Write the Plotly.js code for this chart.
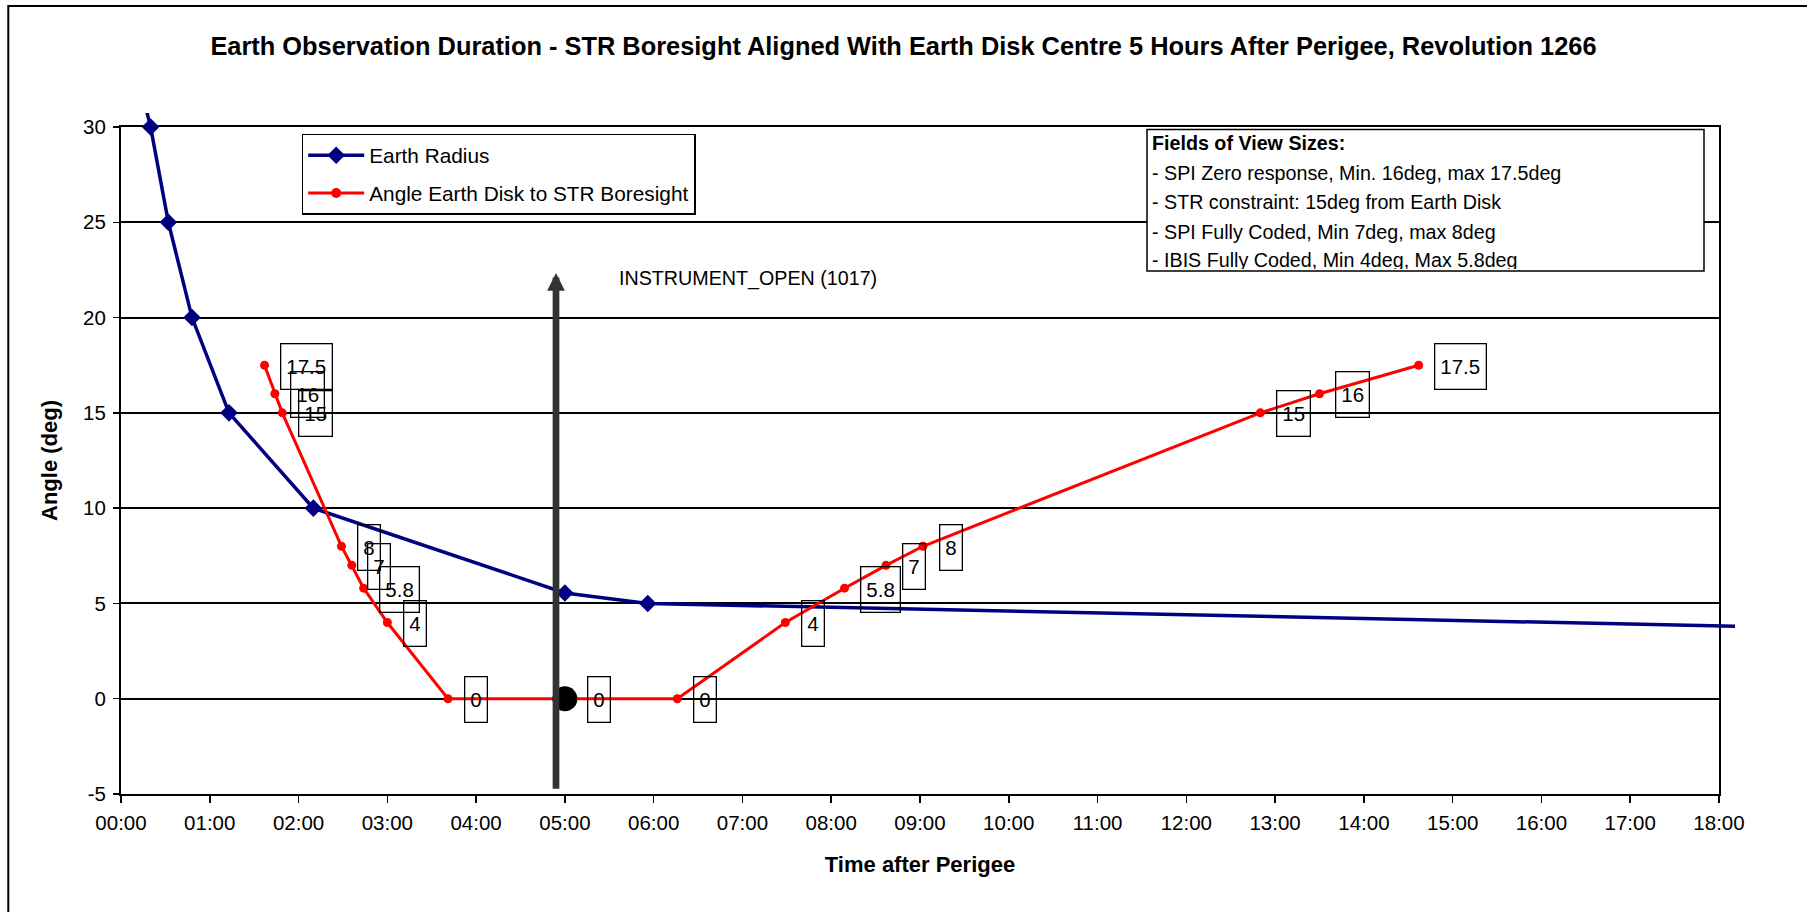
<!DOCTYPE html>
<html>
<head>
<meta charset="utf-8">
<script src="https://cdn.plot.ly/plotly-3.0.1.min.js"></script>
<style>
  html, body { margin: 0; padding: 0; background: #ffffff; }
  #chart { width: 1807px; height: 912px; }
</style>
</head>
<body>
<div id="chart"></div>
<script>
// ---- data -------------------------------------------------------------
// Apparent Earth radius (deg), by time after perigee
const radiusTimes  = ["00:04", "00:20", "00:32", "00:48", "01:13", "02:10", "05:00", "05:56", "19:00"];
const radiusValues = [35, 30, 25, 20, 15, 10, 5.55, 5, 3.72];

// Angle from Earth disk to STR boresight (deg), by time after perigee
const angleTimes  = ["01:37", "01:44", "01:49", "02:29", "02:36", "02:44", "03:00", "03:41",
                     "05:00", "06:16", "07:29", "08:09", "08:37", "09:02", "12:50", "13:30", "14:37"];
const angleValues = [17.5, 16, 15, 8, 7, 5.8, 4, 0, 0, 0, 4, 5.8, 7, 8, 15, 16, 17.5];
// point where the boresight is aligned with the Earth disk centre
const alignedTime = "05:00";

const xTickLabels = ["00:00", "01:00", "02:00", "03:00", "04:00", "05:00", "06:00", "07:00", "08:00", "09:00",
                     "10:00", "11:00", "12:00", "13:00", "14:00", "15:00", "16:00", "17:00", "18:00"];
const yTickValues = [-5, 0, 5, 10, 15, 20, 25, 30];

const eventTime  = "04:54";
const eventLabel = "INSTRUMENT_OPEN (1017)";

const fovTitle = "Fields of View Sizes:";
const fovLines = [
  "- SPI Zero response, Min. 16deg, max 17.5deg",
  "- STR constraint: 15deg from Earth Disk",
  "- SPI Fully Coded, Min 7deg, max 8deg",
  "- IBIS Fully Coded, Min 4deg, Max 5.8deg"
];

// ---- helpers ----------------------------------------------------------
const toHours = s => { const p = s.split(":").map(Number); return p[0] + p[1] / 60; };

const FONT = "Liberation Sans, Arial, Helvetica, sans-serif";
const W = 1807, H = 912;
// plot box in page pixels
const L = 121, R = 1719, T = 127, B = 794.5;
// series lines may run a little past the plot box
const padL = 15, padR = 16, padT = 14, padB = 15;
const margin = { l: L - padL, r: W - (R + padR), t: T - padT, b: H - (B + padB), pad: 0 };
const paperW = W - margin.l - margin.r;
const paperH = H - margin.t - margin.b;
const px2x = px => (px - margin.l) / paperW;
const py2y = py => (H - margin.b - py) / paperH;

const xDomain = [px2x(L), px2x(R)];
const yDomain = [py2y(B), py2y(T)];
const xRange = [0, 18];
const yRange = [-5, 30];
function extendRange(range, dom) {
  const span = (range[1] - range[0]) / (dom[1] - dom[0]);
  return [range[0] - dom[0] * span, range[1] + (1 - dom[1]) * span];
}

// ---- traces -----------------------------------------------------------
const angleX = angleTimes.map(toHours);
const isAligned = angleTimes.map(t => t === alignedTime);
const angleSizes = isAligned.map(a => a ? 25 : 9);
const angleColors = isAligned.map(a => a ? "#000000" : "#ff0000");

const traces = [
  {
    type: "scatter", mode: "lines+markers", name: "Earth Radius",
    x: radiusTimes.map(toHours), y: radiusValues,
    xaxis: "x2", yaxis: "y2",
    line: { color: "#000080", width: 3.5 },
    marker: { symbol: "diamond", size: 13.5, color: "#000080", opacity: 1, line: { width: 0 } },
    legendgroup: "radius"
  },
  {
    type: "scatter", mode: "lines+markers", name: "Angle Earth Disk to STR Boresight",
    x: angleX, y: angleValues,
    xaxis: "x2", yaxis: "y2",
    line: { color: "#ff0000", width: 3 },
    marker: { symbol: "circle", size: angleSizes, color: angleColors, opacity: 1, line: { width: 0 } },
    legendgroup: "angle"
  }
];

// ---- annotations ------------------------------------------------------
const annotations = [];
const noteFont = { family: FONT, size: 19.7, color: "#000000" };

// boxed value labels to the right of each angle point
angleValues.forEach((v, i) => {
  annotations.push({
    x: angleX[i], y: v, xref: "x", yref: "y",
    text: String(v), showarrow: false,
    xanchor: "left", yanchor: "middle",
    xshift: 12 + 0.4 * angleSizes[i], yshift: -1,
    bordercolor: "#000000", borderwidth: 1.3, borderpad: 5, height: 34,
    font: { family: FONT, size: 20.5, color: "#000000" }
  });
});

// instrument-open event arrow
const arrowTop = 22.34, arrowBottom = -4.8;
annotations.push({
  x: toHours(eventTime), y: arrowTop, xref: "x", yref: "y",
  ax: toHours(eventTime), ay: arrowBottom, axref: "x", ayref: "y",
  text: "", showarrow: true, arrowhead: 2, arrowsize: 0.53, arrowwidth: 6.7,
  arrowcolor: "#333333", standoff: 0
});
annotations.push({
  x: toHours(eventTime), y: arrowTop, xref: "x", yref: "y",
  text: eventLabel, showarrow: false, xanchor: "left", yanchor: "middle",
  xshift: 61, yshift: -6, font: noteFont
});

// fields-of-view note
const fovBox = { x0: 1147, y0: 129.5, x1: 1704, y1: 271 };
const fovTextX = 1151;
const fovRowY = [143.3, 172.7, 202, 231.7, 260.7];
[fovTitle].concat(fovLines).forEach((line, i) => {
  const last = i === fovLines.length;
  const a = {
    xref: "paper", yref: "paper", x: px2x(fovTextX), xanchor: "left",
    text: line, showarrow: false, align: "left", borderpad: 0,
    font: Object.assign({}, noteFont, { weight: i === 0 ? "bold" : "normal" })
  };
  if (last) {
    // bottom row runs into the frame edge
    a.y = py2y(fovBox.y1 - 1); a.yanchor = "bottom"; a.valign = "top"; a.height = 20;
  } else {
    a.y = py2y(fovRowY[i]); a.yanchor = "middle";
  }
  annotations.push(a);
});

// ---- shapes -----------------------------------------------------------
const shapes = [
  {
    type: "rect", xref: "paper", yref: "paper",
    x0: px2x(fovBox.x0), x1: px2x(fovBox.x1), y0: py2y(fovBox.y1), y1: py2y(fovBox.y0),
    line: { color: "#000000", width: 1.5 }, fillcolor: "#ffffff", layer: "above"
  },
  {
    // outer chart frame
    type: "rect", xref: "paper", yref: "paper",
    x0: px2x(8.3), x1: px2x(W + 20), y0: py2y(H + 20), y1: py2y(6),
    line: { color: "#000000", width: 2 }, fillcolor: "rgba(0,0,0,0)", layer: "below"
  }
];

// ---- layout -----------------------------------------------------------
const axisFont = { family: FONT, size: 20.5, color: "#000000" };
const layout = {
  width: W, height: H, margin: margin,
  paper_bgcolor: "#ffffff", plot_bgcolor: "rgba(0,0,0,0)",
  font: { family: FONT, color: "#000000" },
  title: {
    text: "Earth Observation Duration - STR Boresight Aligned With Earth Disk Centre 5 Hours After Perigee, Revolution 1266",
    font: { family: FONT, size: 25.4, weight: "bold", color: "#000000" },
    x: 0.5, xref: "container", xanchor: "center",
    y: 1 - 46 / H, yref: "container", yanchor: "middle"
  },
  xaxis: {
    domain: xDomain, range: xRange, anchor: "y",
    tickmode: "array", tickvals: xTickLabels.map(toHours), ticktext: xTickLabels,
    ticks: "outside", ticklen: 7, tickwidth: 1.5, tickcolor: "#000000", ticklabelstandoff: 2,
    showline: true, linecolor: "#000000", linewidth: 2, mirror: true,
    showgrid: false, zeroline: false, tickfont: axisFont,
    title: { text: "Time after Perigee", standoff: 24,
             font: { family: FONT, size: 22, weight: "bold", color: "#000000" } }
  },
  yaxis: {
    domain: yDomain, range: yRange, anchor: "x",
    tickmode: "array", tickvals: yTickValues, ticktext: yTickValues.map(String),
    ticks: "outside", ticklen: 6, tickwidth: 1.5, tickcolor: "#000000", ticklabelstandoff: 3,
    showline: true, linecolor: "#000000", linewidth: 2, mirror: true,
    showgrid: true, gridcolor: "#000000", gridwidth: 2, zeroline: false, tickfont: axisFont,
    title: { text: "Angle (deg)", standoff: 19,
             font: { family: FONT, size: 22, weight: "bold", color: "#000000" } }
  },
  xaxis2: { domain: [0, 1], range: extendRange(xRange, xDomain), anchor: "y2", visible: false, fixedrange: true },
  yaxis2: { domain: [0, 1], range: extendRange(yRange, yDomain), anchor: "x2", visible: false, fixedrange: true },
  showlegend: true,
  legend: {
    x: px2x(301.7), y: py2y(133.7), xanchor: "left", yanchor: "top",
    bgcolor: "#ffffff", bordercolor: "#000000", borderwidth: 1.5,
    font: { family: FONT, size: 20.8, color: "#000000" },
    itemwidth: 56, traceorder: "grouped", tracegroupgap: 7.7
  },
  annotations: annotations,
  shapes: shapes
};

Plotly.newPlot("chart", traces, layout, { staticPlot: true, displayModeBar: false });
</script>
</body>
</html>
